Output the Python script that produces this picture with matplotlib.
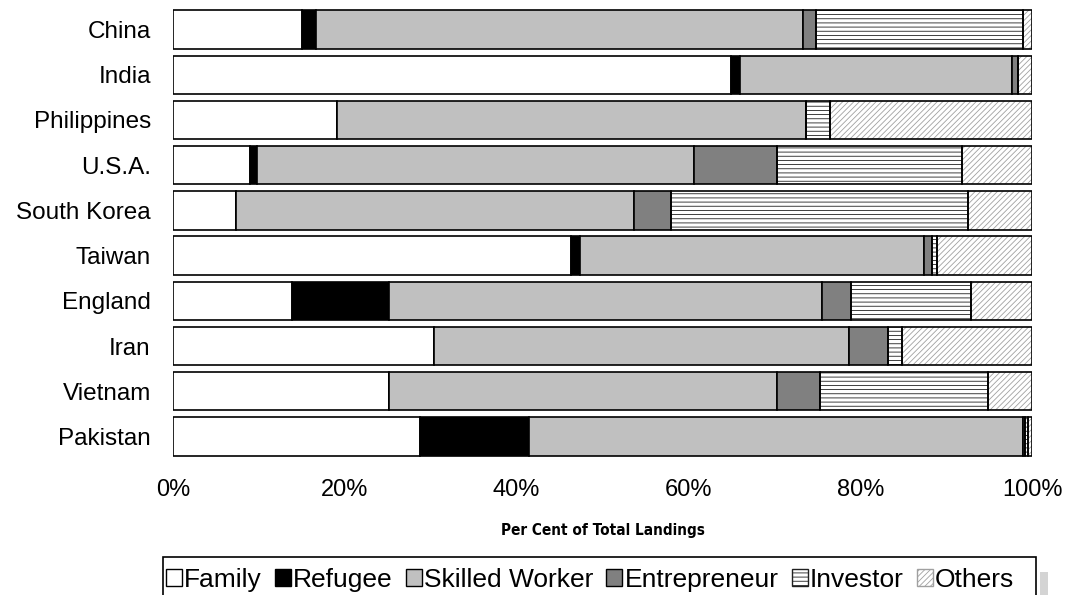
import matplotlib
matplotlib.use("Agg")
import matplotlib.pyplot as plt
from matplotlib.patches import Rectangle, Patch
import numpy as np

categories = ['China', 'India', 'Philippines', 'U.S.A.', 'South Korea',
              'Taiwan', 'England', 'Iran', 'Vietnam', 'Pakistan']
family       = [15.0, 65.0, 19.1,  9.0,  7.3, 46.3, 13.9, 30.4, 25.1, 28.8]
refugee      = [ 1.6,  1.0,  0.0,  0.8,  0.0,  1.1, 11.3,  0.0,  0.0, 12.6]
skilled      = [56.7, 31.7, 54.6, 50.9, 46.4, 40.0, 50.3, 48.3, 45.2, 57.5]
entrepreneur = [ 1.6,  0.7,  0.0,  9.6,  4.3,  1.0,  3.4,  4.5,  5.0,  0.3]
investor     = [24.0,  0.0,  2.8, 21.6, 34.5,  0.5, 14.0,  1.7, 19.6,  0.3]
others       = [ 1.1,  1.6, 23.5,  8.1,  7.5, 11.1,  7.1, 15.1,  5.1,  0.5]

series_names = ['Family', 'Refugee', 'Skilled Worker', 'Entrepreneur', 'Investor', 'Others']
series = [family, refugee, skilled, entrepreneur, investor, others]
styles = [
    dict(color='white', hatch=None, hcol=None),
    dict(color='black', hatch=None, hcol=None),
    dict(color='#C0C0C0', hatch=None, hcol=None),
    dict(color='#808080', hatch=None, hcol=None),
    dict(color='white', hatch='----', hcol='#202020'),
    dict(color='white', hatch='//////', hcol='#A0A0A0'),
]

plt.rcParams['font.family'] = ['Liberation Sans', 'DejaVu Sans']
plt.rcParams['hatch.linewidth'] = 0.6

W, H = 1066, 595
fig = plt.figure(figsize=(W / 100, H / 100), dpi=100)
left_px, right_px = 173, 1032
top_px, bot_px = 2.4, 463.6
ax = fig.add_axes([left_px / W, 1 - bot_px / H, (right_px - left_px) / W, (bot_px - top_px) / H])

y = np.arange(len(categories))
bar_h = 0.85
left = np.zeros(len(categories))
for vals, st in zip(series, styles):
    vals = np.array(vals)
    if st['hatch']:
        ax.barh(y, vals, left=left, height=bar_h, color=st['color'],
                edgecolor=st['hcol'], hatch=st['hatch'], linewidth=0, zorder=2)
        ax.barh(y, vals, left=left, height=bar_h, fill=False,
                edgecolor='black', linewidth=1.2, zorder=3)
    else:
        ax.barh(y, vals, left=left, height=bar_h, color=st['color'],
                edgecolor='black', linewidth=1.2, zorder=3)
    left += vals

ax.set_xlim(0, 100)
ax.set_ylim(len(categories) - 1 + 0.6, -0.6)
ax.set_yticks(y)
ax.set_yticklabels(categories, fontsize=17.5)
ax.set_xticks([0, 20, 40, 60, 80, 100])
ax.set_xticklabels(['%d%%' % v for v in [0, 20, 40, 60, 80, 100]], fontsize=17)
ax.tick_params(axis='y', length=0, pad=16)
ax.tick_params(axis='x', length=0, pad=11)
for s in ax.spines.values():
    s.set_visible(False)

ax.set_xlabel('Per Cent of Total Landings', fontsize=11, fontweight='bold',
              family=['DejaVu Sans'], fontstretch='condensed', labelpad=16)

handles = []
for name, st in zip(series_names, styles):
    if st['hatch']:
        handles.append(Patch(facecolor=st['color'], edgecolor=st['hcol'], hatch=st['hatch'],
                             linewidth=1.0, label=name))
    else:
        handles.append(Patch(facecolor=st['color'], edgecolor='black', linewidth=1.0, label=name))

# legend frame (cut off at the bottom of the figure, as in the original)
fig.patches.append(Rectangle((163 / W, -0.05), (1036 - 163) / W, 0.05 + (595 - 557) / H,
                             transform=fig.transFigure, facecolor='white',
                             edgecolor='black', linewidth=1.2, zorder=1))

leg = fig.legend(handles=handles, loc='upper left', ncol=6,
                 bbox_to_anchor=(166 / W, 1 - 574 / H, (1014 - 166) / W, 6 / H),
                 mode='expand', fontsize=19, handlelength=0.6, handleheight=0.6,
                 handletextpad=0.08, columnspacing=0.3, borderpad=0.0,
                 borderaxespad=0, fancybox=False, frameon=False)

fig.patches.append(Rectangle((1040 / W, 0), 8 / W, 23 / H, transform=fig.transFigure,
                             facecolor='#D4D4D4', edgecolor='none'))

fig.savefig('out.png', dpi=100)
